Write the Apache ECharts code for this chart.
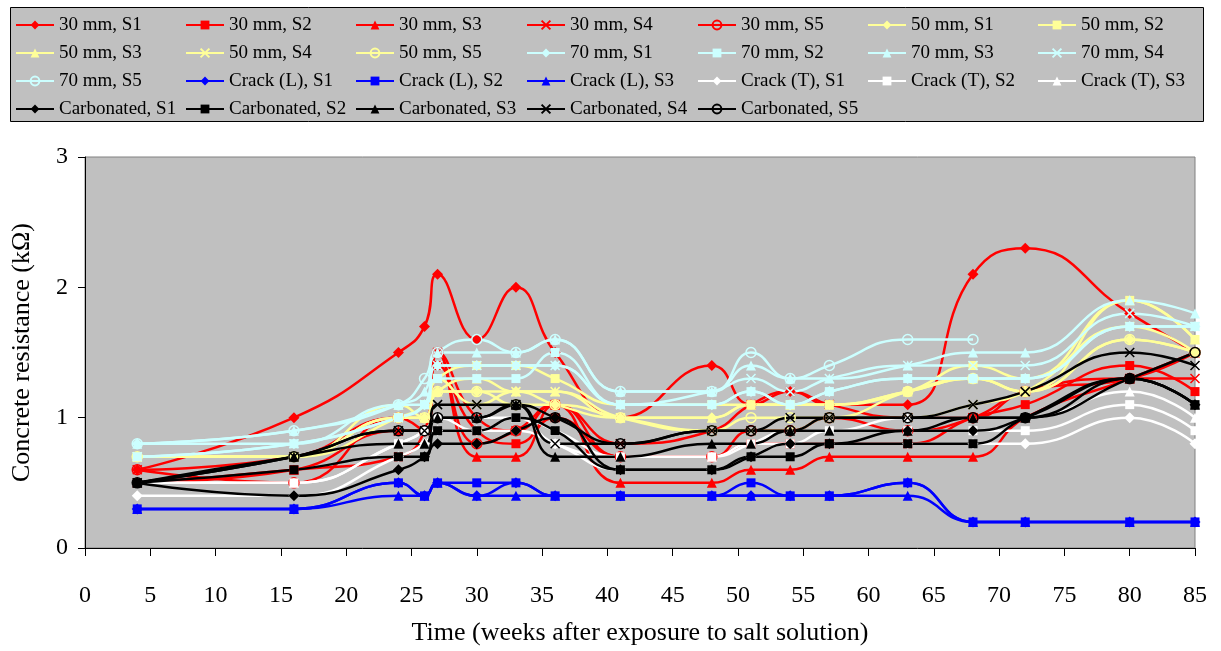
<!DOCTYPE html>
<html>
<head>
<meta charset="utf-8">
<script src="https://cdn.jsdelivr.net/npm/echarts@6/dist/echarts.min.js"></script>
<style>
  html, body { margin: 0; padding: 0; background: #ffffff; }
  #chart { width: 1221px; height: 651px; }
</style>
</head>
<body>
<div id="chart"></div>
<script>
// Time of each reading (weeks after exposure to salt solution)
const weeks = [4, 16, 24, 26, 27, 30, 33, 36, 41, 48, 51, 54, 57, 63, 68, 72, 80, 85];

// Concrete resistance (kΩ), one array per specimen
const cover30_S1 = [0.6, 1.0, 1.5, 1.7, 2.1, 1.6, 2.0, 1.5, 1.0, 1.4, 1.1, 1.2, 1.1, 1.1, 2.1, 2.3, 1.8, 1.5];
const cover30_S2 = [0.5, 0.6, 0.7, 0.9, 1.4, 0.9, 0.8, 1.0, 0.7, 0.7, 0.8, 0.8, 0.8, 0.8, 1.0, 1.1, 1.4, 1.2];
const cover30_S3 = [0.5, 0.6, 0.9, 0.9, 1.5, 0.7, 0.7, 1.1, 0.5, 0.5, 0.6, 0.6, 0.7, 0.7, 0.7, 1.0, 1.3, 1.5];
const cover30_S4 = [0.6, 0.7, 1.0, 1.0, 1.5, 1.0, 0.9, 1.1, 0.8, 0.9, 1.1, 1.2, 1.1, 1.0, 1.0, 1.2, 1.3, 1.3];
const cover30_S5 = [0.6, 0.5, 1.0, 0.9, 1.5, 0.8, 0.9, 1.1, 0.7, 0.7, 0.9, 0.9, 1.0, 0.9, 1.0, 1.2, 1.3, 1.5];

const cover50_S1 = [0.7, 0.7, 1.0, 1.0, 1.2, 1.2, 1.2, 1.1, 1.0, 1.0, 1.1, 1.1, 1.1, 1.2, 1.3, 1.2, 1.6, 1.5];
const cover50_S2 = [0.7, 0.7, 1.0, 1.1, 1.3, 1.4, 1.4, 1.3, 1.1, 1.1, 1.1, 1.1, 1.1, 1.2, 1.4, 1.3, 1.9, 1.6];
const cover50_S3 = [0.7, 0.7, 1.1, 1.0, 1.2, 1.3, 1.2, 1.2, 1.0, 1.0, 1.1, 1.1, 1.1, 1.2, 1.3, 1.2, 1.9, 1.6];
const cover50_S4 = [0.7, 0.7, 1.0, 1.0, 1.3, 1.1, 1.2, 1.2, 1.0, 0.9, 0.9, 0.9, 1.0, 1.0, 1.1, 1.2, 1.7, 1.5];
const cover50_S5 = [0.7, 0.7, 1.0, 1.0, 1.2, 1.2, 1.1, 1.1, 1.0, 0.9, 1.0, 1.0, 1.0, 1.2, 1.3, 1.2, 1.6, 1.5];

const cover70_S1 = [0.8, 0.8, 1.1, 1.1, 1.4, 1.4, 1.4, 1.4, 1.1, 1.1, 1.2, 1.1, 1.2, 1.3, 1.3, 1.3, 1.7, 1.7];
const cover70_S2 = [0.7, 0.8, 1.0, 1.1, 1.3, 1.3, 1.3, 1.5, 1.1, 1.1, 1.2, 1.1, 1.2, 1.3, 1.3, 1.3, 1.7, 1.7];
const cover70_S3 = [0.8, 0.9, 1.1, 1.2, 1.5, 1.5, 1.5, 1.6, 1.2, 1.2, 1.4, 1.3, 1.3, 1.4, 1.5, 1.5, 1.9, 1.8];
const cover70_S4 = [0.7, 0.8, 1.0, 1.1, 1.4, 1.4, 1.4, 1.4, 1.1, 1.2, 1.3, 1.2, 1.3, 1.4, 1.4, 1.4, 1.8, 1.7];
const cover70_S5 = [0.8, 0.9, 1.1, 1.3, 1.5, 1.6, 1.5, 1.6, 1.2, 1.2, 1.5, 1.3, 1.4, 1.6, 1.6, null, null, null];

const crackL_S1 = [0.3, 0.3, 0.5, 0.4, 0.5, 0.4, 0.5, 0.4, 0.4, 0.4, 0.4, 0.4, 0.4, 0.5, 0.2, 0.2, 0.2, 0.2];
const crackL_S2 = [0.3, 0.3, 0.5, 0.4, 0.5, 0.5, 0.5, 0.4, 0.4, 0.4, 0.5, 0.4, 0.4, 0.5, 0.2, 0.2, 0.2, 0.2];
const crackL_S3 = [0.3, 0.3, 0.4, 0.4, 0.5, 0.4, 0.4, 0.4, 0.4, 0.4, 0.4, 0.4, 0.4, 0.4, 0.2, 0.2, 0.2, 0.2];

const crackT_S1 = [0.4, 0.4, 0.7, 0.8, 0.9, 0.9, 0.9, 0.8, 0.6, 0.6, 0.7, 0.8, 0.8, 0.8, 0.8, 0.8, 1.0, 0.8];
const crackT_S2 = [0.5, 0.5, 0.8, 0.9, 1.0, 0.9, 1.0, 0.8, 0.7, 0.7, 0.8, 0.8, 0.9, 0.9, 0.9, 0.9, 1.1, 0.9];
const crackT_S3 = [0.5, 0.5, 0.8, 0.9, 1.0, 1.0, 1.0, 0.9, 0.7, 0.7, 0.8, 0.9, 0.9, 1.0, 1.0, 1.0, 1.2, 1.0];

const carb_S1 = [0.5, 0.4, 0.6, 0.7, 0.8, 0.8, 0.9, 1.0, 0.6, 0.6, 0.7, 0.8, 0.8, 0.9, 0.9, 1.0, 1.3, 1.1];
const carb_S2 = [0.5, 0.6, 0.7, 0.7, 0.9, 0.9, 1.0, 0.9, 0.6, 0.6, 0.7, 0.7, 0.8, 0.8, 0.8, 1.0, 1.3, 1.1];
const carb_S3 = [0.5, 0.7, 0.8, 0.8, 1.0, 1.0, 1.1, 0.7, 0.7, 0.8, 0.8, 0.9, 0.9, 0.9, 1.0, 1.0, 1.3, 1.1];
const carb_S4 = [0.5, 0.7, 0.9, 0.9, 1.1, 1.1, 1.1, 0.8, 0.8, 0.9, 0.9, 1.0, 1.0, 1.0, 1.1, 1.2, 1.5, 1.4];
const carb_S5 = [0.5, 0.7, 0.9, 0.9, 1.0, 1.0, 1.1, 1.0, 0.8, 0.9, 0.9, 0.9, 1.0, 1.0, 1.0, 1.0, 1.3, 1.5];

// Axis ticks
const xTicks = { min: 0, max: 85, step: 5 };
const yTicks = { min: 0, max: 3, step: 1 };

// Colours per specimen group and marker shape per specimen number
const RED = '#FF0000', YELLOW = '#FFFF99', CYAN = '#CCFFFF', BLUE = '#0000FF', WHITE = '#FFFFFF', BLACK = '#000000';
const CROSS = 'path://M0,0L10,10M10,0L0,10';

const seriesDefs = [
  ['30 mm, S1', RED, 'diamond', cover30_S1],
  ['30 mm, S2', RED, 'square', cover30_S2],
  ['30 mm, S3', RED, 'triangle', cover30_S3],
  ['30 mm, S4', RED, 'cross', cover30_S4],
  ['30 mm, S5', RED, 'ring', cover30_S5],
  ['50 mm, S1', YELLOW, 'diamond', cover50_S1],
  ['50 mm, S2', YELLOW, 'square', cover50_S2],
  ['50 mm, S3', YELLOW, 'triangle', cover50_S3],
  ['50 mm, S4', YELLOW, 'cross', cover50_S4],
  ['50 mm, S5', YELLOW, 'ring', cover50_S5],
  ['70 mm, S1', CYAN, 'diamond', cover70_S1],
  ['70 mm, S2', CYAN, 'square', cover70_S2],
  ['70 mm, S3', CYAN, 'triangle', cover70_S3],
  ['70 mm, S4', CYAN, 'cross', cover70_S4],
  ['70 mm, S5', CYAN, 'ring', cover70_S5],
  ['Crack (L), S1', BLUE, 'diamond', crackL_S1],
  ['Crack (L), S2', BLUE, 'square', crackL_S2],
  ['Crack (L), S3', BLUE, 'triangle', crackL_S3],
  ['Crack (T), S1', WHITE, 'diamond', crackT_S1],
  ['Crack (T), S2', WHITE, 'square', crackT_S2],
  ['Crack (T), S3', WHITE, 'triangle', crackT_S3],
  ['Carbonated, S1', BLACK, 'diamond', carb_S1],
  ['Carbonated, S2', BLACK, 'square', carb_S2],
  ['Carbonated, S3', BLACK, 'triangle', carb_S3],
  ['Carbonated, S4', BLACK, 'cross', carb_S4],
  ['Carbonated, S5', BLACK, 'ring', carb_S5]
];

function makeSeries([name, color, shape, values]) {
  const s = {
    name: name,
    type: 'line',
    smooth: 0.5,
    data: weeks.map((w, i) => [w, values[i]]),
    connectNulls: false,
    lineStyle: { color: color, width: 2.5 },
    emphasis: { disabled: true },
    animation: false
  };
  if (shape === 'diamond') {
    s.symbol = 'diamond'; s.symbolSize = 11;
    s.itemStyle = { color: color };
  } else if (shape === 'square') {
    s.symbol = 'rect'; s.symbolSize = 9;
    s.itemStyle = { color: color };
  } else if (shape === 'triangle') {
    s.symbol = 'triangle'; s.symbolSize = 10;
    s.itemStyle = { color: color };
  } else if (shape === 'cross') {
    s.symbol = CROSS; s.symbolSize = 9;
    s.itemStyle = { color: color, borderColor: color, borderWidth: 1.5 };
  } else {
    s.symbol = 'circle'; s.symbolSize = 10;
    s.itemStyle = { color: 'rgba(0,0,0,0)', borderColor: color, borderWidth: 1.5 };
  }
  return s;
}

const series = seriesDefs.map(makeSeries);

// Legend laid out as 7 columns x 4 rows, filled row by row
const legendCols = [15, 185, 355, 526, 697, 867, 1037];
const legends = legendCols.map((left, c) => ({
  orient: 'vertical',
  left: left,
  top: 15,
  padding: 0,
  itemGap: 8,
  itemWidth: 38,
  itemHeight: 11,
  textStyle: { fontFamily: 'Liberation Serif', fontSize: 19, color: '#000', lineHeight: 20 },
  selectedMode: false,
  data: seriesDefs.filter((d, i) => i % 7 === c).map(d => d[0])
}));

const serif = 'Liberation Serif';
const option = {
  backgroundColor: '#ffffff',
  animation: false,
  graphic: [{
    type: 'rect',
    z: -10,
    shape: { x: 10.5, y: 7.5, width: 1193, height: 114 },
    style: { fill: '#C0C0C0', stroke: '#000', lineWidth: 1 }
  }],
  legend: legends,
  grid: {
    left: 85, right: 26, top: 157, bottom: 103,
    show: true, backgroundColor: '#C0C0C0', borderColor: '#808080', borderWidth: 1
  },
  xAxis: {
    type: 'value',
    min: xTicks.min, max: xTicks.max, interval: xTicks.step,
    name: 'Time (weeks after exposure to salt solution)',
    nameLocation: 'middle', nameGap: 72,
    nameTextStyle: { fontFamily: serif, fontSize: 26, color: '#000' },
    axisLine: { lineStyle: { color: '#000', width: 1 } },
    axisTick: { show: true, length: 8, lineStyle: { color: '#000' } },
    axisLabel: { fontFamily: serif, fontSize: 24, color: '#000', margin: 36 },
    splitLine: { show: false }
  },
  yAxis: {
    type: 'value',
    min: yTicks.min, max: yTicks.max, interval: yTicks.step,
    name: 'Concrete resistance (kΩ)',
    nameLocation: 'middle', nameGap: 50, nameRotate: 90,
    nameTextStyle: { fontFamily: serif, fontSize: 26, color: '#000' },
    axisLine: { show: true, lineStyle: { color: '#000', width: 1 } },
    axisTick: { show: true, length: 7, lineStyle: { color: '#000' } },
    axisLabel: { fontFamily: serif, fontSize: 24, color: '#000', margin: 17 },
    splitLine: { show: false }
  },
  series: series
};

const chart = echarts.init(document.getElementById('chart'), null, { renderer: 'canvas' });
chart.setOption(option);
</script>
</body>
</html>
